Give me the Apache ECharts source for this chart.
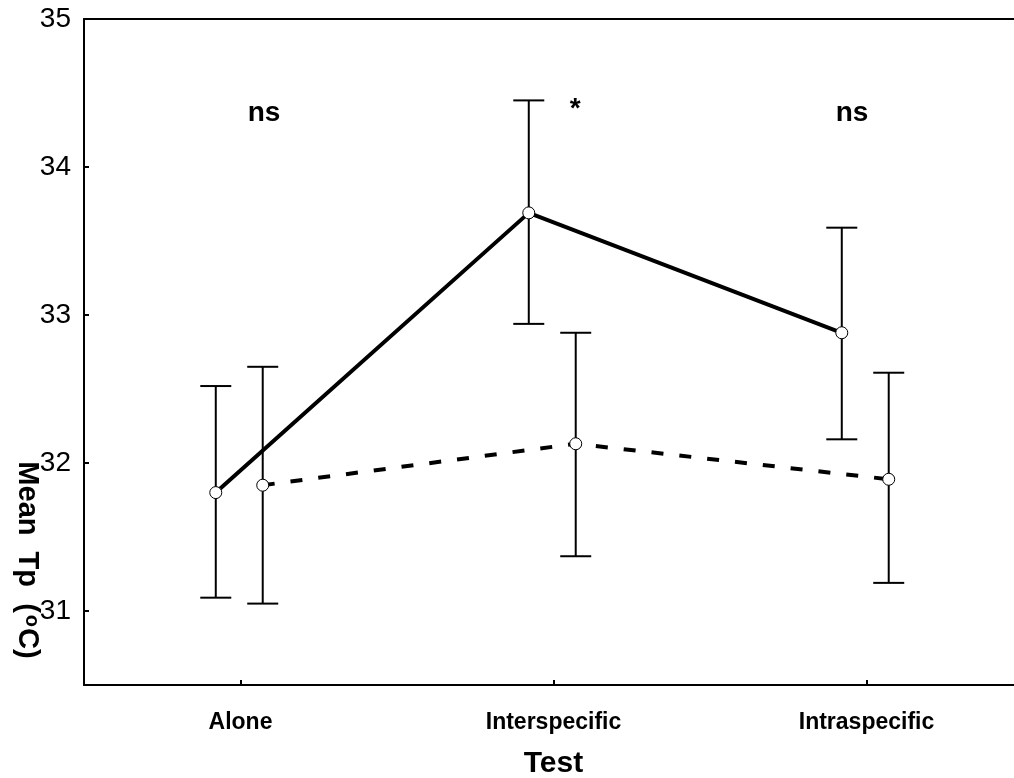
<!DOCTYPE html>
<html>
<head>
<meta charset="utf-8">
<script src="https://cdn.jsdelivr.net/npm/echarts@6/dist/echarts.min.js"></script>
<style>
  html, body { margin: 0; padding: 0; background: #fff; }
  #chart { width: 1014px; height: 778px; }
</style>
</head>
<body>
<div id="chart"></div>
<script>
// data
const categories = ['Alone', 'Interspecific', 'Intraspecific'];
const solidMean = [31.80, 33.69, 32.88];
const solidLow = [31.09, 32.94, 32.16];
const solidHigh = [32.52, 34.45, 33.59];
const dashMean = [31.85, 32.13, 31.89];
const dashLow = [31.05, 31.37, 31.19];
const dashHigh = [32.65, 32.88, 32.61];
const yTicks = [31, 32, 33, 34, 35];
const annText = ['ns', '*', 'ns'];
const annX = [0.575, 1.569, 2.454];
const annY = [34.36, 34.39, 34.36];

const catPos = categories.map((c, i) => i + 0.5);
const solidOffset = -0.079;
const dashOffset = 0.071;
const FONT = '"Liberation Sans", Arial, sans-serif';

const solidPts = catPos.map((x, i) => [x + solidOffset, solidMean[i]]);
const dashPts = catPos.map((x, i) => [x + dashOffset, dashMean[i]]);
const solidErr = catPos.map((x, i) => [x + solidOffset, solidLow[i], solidHigh[i]]);
const dashErr = catPos.map((x, i) => [x + dashOffset, dashLow[i], dashHigh[i]]);
const annData = annText.map((t, i) => [annX[i], annY[i], i]);

function errorBar(params, api) {
  const x = api.value(0);
  const lo = api.coord([x, api.value(1)]);
  const hi = api.coord([x, api.value(2)]);
  const w = 15.5;
  const st = { stroke: '#000', lineWidth: 2 };
  return {
    type: 'group',
    children: [
      { type: 'line', shape: { x1: lo[0], y1: lo[1], x2: hi[0], y2: hi[1] }, style: st },
      { type: 'line', shape: { x1: lo[0] - w, y1: lo[1], x2: lo[0] + w, y2: lo[1] }, style: st },
      { type: 'line', shape: { x1: hi[0] - w, y1: hi[1], x2: hi[0] + w, y2: hi[1] }, style: st }
    ]
  };
}

function annotation(params, api) {
  const p = api.coord([api.value(0), api.value(1)]);
  return {
    type: 'text',
    x: p[0],
    y: p[1],
    style: {
      text: annText[api.value(2)],
      fill: '#000',
      font: 'bold 28px ' + FONT,
      align: 'center',
      verticalAlign: 'middle'
    }
  };
}

const chart = echarts.init(document.getElementById('chart'), null, { renderer: 'canvas' });
chart.setOption({
  animation: false,
  backgroundColor: '#fff',
  grid: { left: 84, width: 939, top: 19, bottom: 93, containLabel: false, outerBoundsMode: 'none' },
  xAxis: [{
    type: 'value',
    min: 0,
    max: 3,
    axisLine: { show: true, lineStyle: { color: '#000', width: 2 } },
    axisTick: { show: true, inside: true, length: 5, customValues: catPos, lineStyle: { color: '#000', width: 2 } },
    axisLabel: {
      show: true,
      customValues: catPos,
      formatter: v => categories[Math.round(v - 0.5)],
      color: '#000',
      fontFamily: FONT,
      fontWeight: 'bold',
      fontSize: 23,
      margin: 26
    },
    splitLine: { show: false },
    name: 'Test',
    nameLocation: 'middle',
    nameGap: 64,
    nameTextStyle: { color: '#000', fontFamily: FONT, fontWeight: 'bold', fontSize: 30 }
  }, {
    type: 'value',
    position: 'top',
    min: 0,
    max: 3,
    axisLine: { show: true, lineStyle: { color: '#000', width: 2 } },
    axisTick: { show: false },
    axisLabel: { show: false },
    splitLine: { show: false }
  }],
  yAxis: {
    type: 'value',
    min: 30.5,
    max: 35,
    axisLine: { show: true, lineStyle: { color: '#000', width: 2 } },
    axisTick: { show: true, inside: true, length: 5, customValues: yTicks, lineStyle: { color: '#000', width: 2 } },
    axisLabel: {
      customValues: yTicks,
      color: '#000',
      fontFamily: FONT,
      fontSize: 28,
      margin: 13
    },
    splitLine: { show: false }
  },
  graphic: [{
    type: 'text',
    x: 27,
    y: 560,
    rotation: -Math.PI / 2,
    style: {
      text: 'Mean  Tp  ({sup|o}C)',
      fill: '#000',
      font: 'bold 29px ' + FONT,
      align: 'center',
      verticalAlign: 'middle',
      rich: {
        sup: { fontSize: 20, fontWeight: 'bold', fontFamily: FONT, verticalAlign: 'top', fill: '#000', padding: [0, 1, 0, 2] }
      }
    }
  }],
  series: [
    {
      type: 'custom',
      renderItem: errorBar,
      data: solidErr,
      encode: { x: 0, y: [1, 2] },
      z: 1
    },
    {
      type: 'custom',
      renderItem: errorBar,
      data: dashErr,
      encode: { x: 0, y: [1, 2] },
      z: 1
    },
    {
      type: 'line',
      data: solidPts,
      symbol: 'circle',
      symbolSize: 12,
      lineStyle: { color: '#000', width: 4 },
      itemStyle: { color: '#fff', borderColor: '#000', borderWidth: 1 },
      z: 3
    },
    {
      type: 'line',
      data: dashPts,
      symbol: 'circle',
      symbolSize: 12,
      lineStyle: { color: '#000', width: 4, type: [12, 16] },
      itemStyle: { color: '#fff', borderColor: '#000', borderWidth: 1 },
      z: 3
    },
    {
      type: 'custom',
      renderItem: annotation,
      data: annData,
      encode: { x: 0, y: 1 },
      z: 4
    }
  ]
});
</script>
</body>
</html>
